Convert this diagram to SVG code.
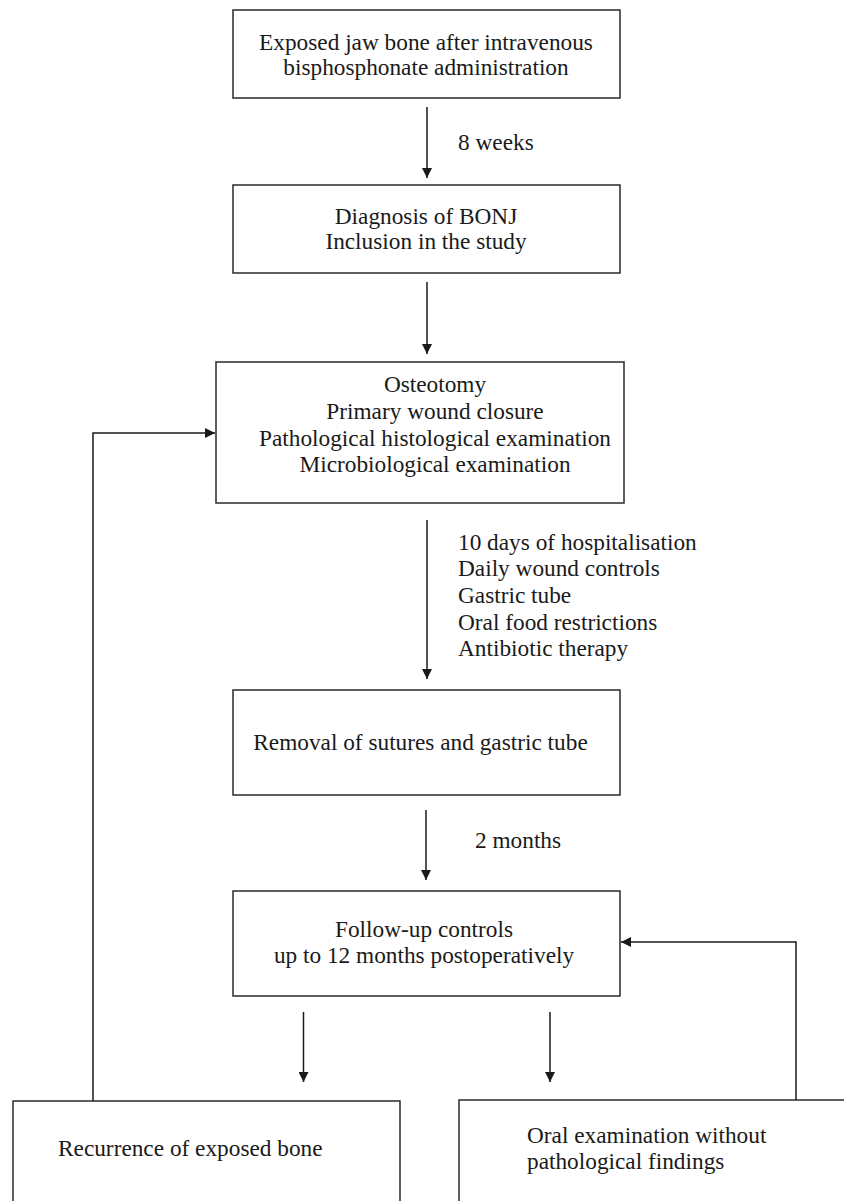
<svg xmlns="http://www.w3.org/2000/svg" width="844" height="1201" viewBox="0 0 844 1201">
<defs>
<marker id="ah" viewBox="0 0 10 10" refX="10" refY="5" markerWidth="10" markerHeight="10" markerUnits="userSpaceOnUse" orient="auto">
<path d="M0,0 L10,5 L0,10 z" fill="#1a1a1a"/>
</marker>
</defs>
<style>
.box{fill:#fff;stroke:#2a2a2a;stroke-width:1.5}
.t{font-family:"Liberation Serif","Times New Roman",serif;font-size:23.3px;fill:#1a1a1a}
.c{text-anchor:middle}
.ln{fill:none;stroke:#1a1a1a;stroke-width:1.5}
</style>
<rect width="844" height="1201" fill="#fff"/>
<g id="n1"><rect class="box" x="233" y="10" width="387" height="88"/>
<text class="t c" x="426" y="50">Exposed jaw bone after intravenous</text>
<text class="t c" x="426" y="75">bisphosphonate administration</text></g>
<g id="n2"><rect class="box" x="233" y="185" width="387" height="88"/>
<text class="t c" x="426" y="224">Diagnosis of BONJ</text>
<text class="t c" x="426" y="249">Inclusion in the study</text></g>
<g id="n3"><rect class="box" x="216" y="362" width="408" height="141"/>
<text class="t c" x="435" y="392">Osteotomy</text>
<text class="t c" x="435" y="419">Primary wound closure</text>
<text class="t c" x="435" y="446">Pathological histological examination</text>
<text class="t c" x="435" y="472">Microbiological examination</text></g>
<g id="n4"><rect class="box" x="233" y="690" width="387" height="105"/>
<text class="t c" x="420.5" y="750">Removal of sutures and gastric tube</text></g>
<g id="n5"><rect class="box" x="233" y="891" width="387" height="105"/>
<text class="t c" x="424" y="937">Follow-up controls</text>
<text class="t c" x="424" y="963">up to 12 months postoperatively</text></g>
<g id="n6"><rect class="box" x="13" y="1101" width="387" height="120"/>
<text class="t" x="58" y="1156">Recurrence of exposed bone</text></g>
<g id="n7"><rect class="box" x="459" y="1100" width="400" height="120"/>
<text class="t" x="527" y="1143">Oral examination without</text>
<text class="t" x="527" y="1169">pathological findings</text></g>
<g id="connectors">
<line class="ln" x1="427" y1="107" x2="427" y2="178" marker-end="url(#ah)"/>
<line class="ln" x1="427" y1="282" x2="427" y2="354" marker-end="url(#ah)"/>
<line class="ln" x1="427" y1="520" x2="427" y2="679" marker-end="url(#ah)"/>
<line class="ln" x1="426" y1="810" x2="426" y2="880" marker-end="url(#ah)"/>
<line class="ln" x1="303.5" y1="1012" x2="303.5" y2="1082" marker-end="url(#ah)"/>
<line class="ln" x1="550" y1="1012" x2="550" y2="1082" marker-end="url(#ah)"/>
<polyline class="ln" points="93,1101 93,433 215,433" marker-end="url(#ah)"/>
<polyline class="ln" points="796,1100 796,942 621,942" marker-end="url(#ah)"/>
<text class="t" x="458" y="150">8 weeks</text>
<text class="t" x="458" y="550">10 days of hospitalisation</text>
<text class="t" x="458" y="576">Daily wound controls</text>
<text class="t" x="458" y="603">Gastric tube</text>
<text class="t" x="458" y="630">Oral food restrictions</text>
<text class="t" x="458" y="656">Antibiotic therapy</text>
<text class="t" x="475" y="848">2 months</text>
</g>
</svg>
